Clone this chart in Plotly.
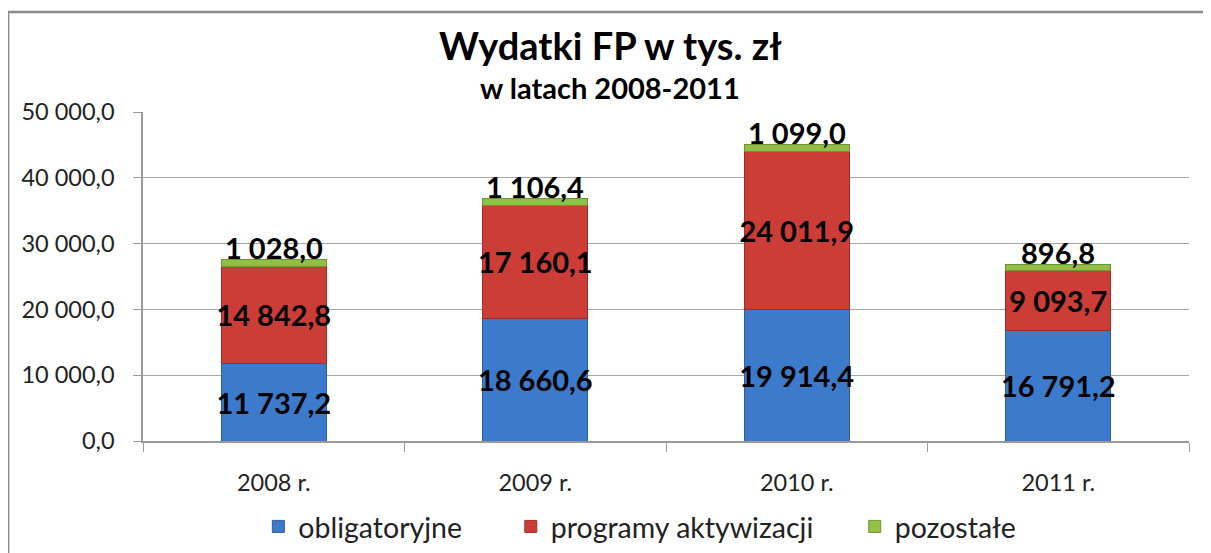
import plotly.graph_objects as go

categories = ["2008 r.", "2009 r.", "2010 r.", "2011 r."]
obligatoryjne = [11737.2, 18660.6, 19914.4, 16791.2]
programy = [14842.8, 17160.1, 24011.9, 9093.7]
pozostale = [1028.0, 1106.4, 1099.0, 896.8]
series_names = ["obligatoryjne", "programy aktywizacji", "pozostałe"]
y_ticks = [0, 10000, 20000, 30000, 40000, 50000]

FONT = "Lato"
colors = ["#3c7bcb", "#cc3d37", "#93bf47"]
lines = ["#2d5f9e", "#9e2d28", "#6f9433"]
legend_labels = [series_names[0] + "\u00a0" * 6, series_names[1] + "\u00a0" * 5, series_names[2]]
label_font = dict(family=FONT, size=29, color="black", weight="bold")

fig = go.Figure()
for name, lab, vals, col, lc, show_text in zip(series_names, legend_labels,
                                               [obligatoryjne, programy, pozostale],
                                               colors, lines, [True, True, False]):
    fig.add_trace(go.Bar(
        x=categories, y=vals, name=lab,
        marker=dict(color=col, line=dict(color=lc, width=1)),
        texttemplate="%{y:,.1f}" if show_text else None,
        textposition="inside" if show_text else "none",
        insidetextanchor="middle",
        textangle=0, constraintext="none", cliponaxis=False,
        textfont=label_font, insidetextfont=label_font,
    ))

totals = [a + b + c for a, b, c in zip(obligatoryjne, programy, pozostale)]
annotations = [
    dict(x=cat, y=tot, xref="x", yref="y", text=f"{val:,.1f}".replace(",", " ").replace(".", ","),
         showarrow=False, yanchor="middle", yshift=12, font=label_font)
    for cat, tot, val in zip(categories, totals, pozostale)
]
annotations += [
    dict(text="<b>Wydatki FP w tys. zł</b>", xref="paper", yref="paper",
         x=0.4465, y=1.2036, xanchor="center", yanchor="middle", showarrow=False,
         font=dict(family=FONT, size=38, color="black")),
    dict(text="<b>w latach 2008-2011</b>", xref="paper", yref="paper",
         x=0.4465, y=1.073, xanchor="center", yanchor="middle", showarrow=False,
         font=dict(family=FONT, size=29, color="black")),
]

fig.update_layout(
    width=1203, height=545,
    barmode="stack", bargap=0.6,
    separators=", ",
    paper_bgcolor="white", plot_bgcolor="white",
    margin=dict(l=135, r=22, t=104, b=112, autoexpand=False),
    font=dict(family=FONT, color="#222222"),
    showlegend=True,
    legend=dict(orientation="h", x=0.475, xanchor="center", y=-0.261, yanchor="middle",
                font=dict(family=FONT, size=28.5, color="#222222"),
                traceorder="normal", itemwidth=30),
    annotations=annotations,
    shapes=[dict(type="rect", xref="paper", yref="paper",
                 x0=-0.129, x1=1.1, y0=-0.5, y1=1.304,
                 line=dict(color="#8a8a8a", width=2.5), fillcolor="rgba(0,0,0,0)", layer="below")],
)

fig.update_xaxes(showline=True, linecolor="#9a9a9a", linewidth=1.5,
                 ticks="outside", tickson="boundaries", ticklen=9, tickcolor="#9a9a9a",
                 tickfont=dict(family=FONT, size=23.5, color="#222222"), ticklabelstandoff=20,
                 showgrid=False)
fig.update_yaxes(range=[0, 50000], tickvals=y_ticks, tickformat=",.1f",
                 showline=True, linecolor="#9a9a9a", linewidth=1.5,
                 ticks="outside", ticklen=8, tickcolor="#9a9a9a",
                 gridcolor="#a6a6a6", gridwidth=1.2, zeroline=False,
                 tickfont=dict(family=FONT, size=23.5, color="#222222"), ticklabelstandoff=14)

fig.write_html("out.html")
